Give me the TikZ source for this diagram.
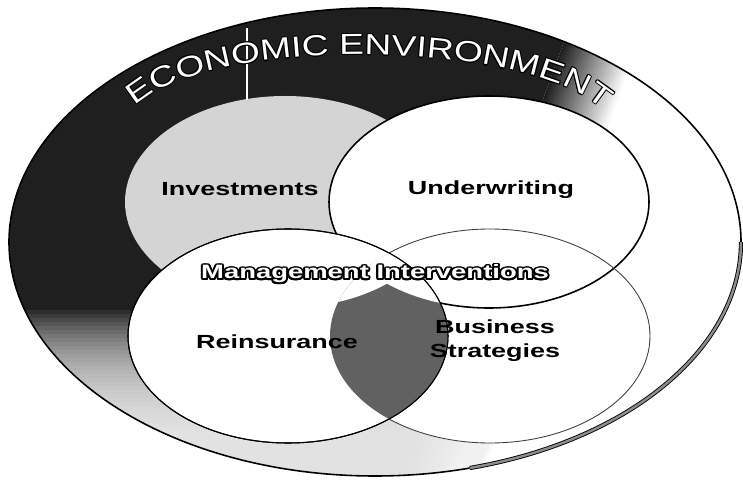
\documentclass[tikz,border=0pt]{standalone}
\usepackage{fontspec}
\setmainfont{Liberation Sans}
\newfontfamily\widefont[FakeStretch=1.42]{Liberation Sans}
\newfontfamily\arcfont[FakeStretch=1.28]{Liberation Sans}
\usepackage{tikz}
\usetikzlibrary{calc,decorations.text}
\definecolor{band}{gray}{0.12}
\definecolor{invest}{gray}{0.83}
\definecolor{core}{gray}{0.38}
\definecolor{rim}{gray}{0.55}

% the ellipses, in pixel units
\newcommand\envpath{(375,238) ellipse [x radius=366, y radius=234]}
\newcommand\invpath{(285,278) ellipse [x radius=160, y radius=106]}
\newcommand\undpath{(489,278) ellipse [x radius=160, y radius=106]}
\newcommand\reipath{(288,144) ellipse [x radius=160, y radius=107]}
\newcommand\buspath{(490,144) ellipse [x radius=160, y radius=107]}
% baseline of the title
\newcommand\titlepath{(107,351) -- (138,377) .. controls (218,444) and (520,440) .. (600,373) -- (631,347)}
\newcommand\arcstyle{\arcfont\fontsize{16.5}{19}\selectfont}

\begin{document}
\begin{tikzpicture}[x=0.02cm,y=0.02cm,
  venntext/.style={font=\widefont\bfseries\fontsize{10.8}{13.6}\selectfont,inner sep=0pt,anchor=base},
  midtext/.style={font=\widefont\bfseries\fontsize{11}{13}\selectfont,inner sep=0pt,anchor=base}]
  \useasboundingbox (0,0) rectangle (743,480);
  % dark band, fading out to the right and to the bottom
  \begin{scope}
    \clip \envpath;
    \begin{scope}[rotate=-20]
      \fill[band] (-300,-300) rectangle (380,1000);
      \foreach \u in {380,382,...,448} {\pgfmathsetmacro\g{88*(450-\u)/70}\fill[black!\g] (\u,-300) rectangle (\u+2.4,1000);}
    \end{scope}
    \foreach \yy in {50,54,...,170} \fill[white,opacity=.07] (0,0) rectangle (743,\yy);
  \end{scope}
  \fill[invest] \invpath;
  \fill[white] \undpath;
  \fill[white] \buspath;
  \draw[line width=.9pt] \undpath;
  \draw[black!75,line width=.5pt] \buspath;
  \filldraw[fill=white,line width=.6pt] \reipath;
  % shaded core of reinsurance and strategies
  \begin{scope}
    \clip \reipath;
    \clip \buspath;
    \fill[core] (330,30) rectangle (450,260);
    \fill[white] \invpath;
    \fill[white] \undpath;
  \end{scope}
  \draw[line width=.6pt] \reipath;
  \draw[line width=.9pt] \envpath;
  \draw[line width=.5pt,double=rim,double distance=1.4pt] (375,238) ++(0:366 and 234) arc[start angle=0,end angle=-75,x radius=366,y radius=234];
  \draw[white,line width=.6pt] (247,380) -- (247,452);
  % title along the top of the band
  \foreach \a in {0,45,...,315}
    \path[shift={(\a:.6pt)},decorate,decoration={text along path,text align=center,text color=black,text={|\arcstyle|ECONOMIC ENVIRONMENT}}] \titlepath;
  \path[decorate,decoration={text along path,text align=center,text color=white,text={|\arcstyle|ECONOMIC ENVIRONMENT}}] \titlepath;
  \node[venntext] (inv) at (240,284) {Investments};
  \node[venntext] (und) at (491,285) {Underwriting};
  \node[venntext] (rei) at (277,132) {Reinsurance};
  \node[venntext,align=center] (bus) at (495,123) {Business\\Strategies};
  \coordinate (mgmtpos) at (375,201);
  \foreach \a in {0,22.5,...,337.5}
    \node[midtext,text=black] at ($(mgmtpos)+(\a:1.1pt)$) {Management Interventions};
  \node[midtext,text=white] (mgmt) at (mgmtpos) {Management Interventions};
\end{tikzpicture}
\end{document}
